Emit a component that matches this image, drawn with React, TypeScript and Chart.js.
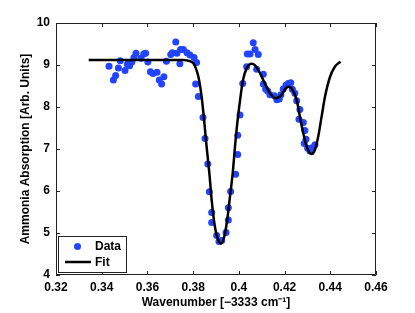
import React, { useEffect, useRef } from "react";
import { Chart, registerables } from "chart.js";

Chart.register(...registerables);

const dataX = [
  0.3432, 0.3451, 0.3461, 0.3473, 0.3481, 0.3502, 0.3512, 0.3522, 0.3532, 0.3541,
  0.3550, 0.3572, 0.3584, 0.3592, 0.3602, 0.3613, 0.3624, 0.3642, 0.3652, 0.3662,
  0.3672, 0.3683, 0.3702, 0.3709, 0.3724, 0.3729, 0.3742, 0.3745, 0.3757, 0.3773,
  0.3786, 0.3804, 0.3815, 0.3811, 0.3823, 0.3843, 0.3852, 0.3864, 0.3871, 0.3881,
  0.3881, 0.3903, 0.3913, 0.3925, 0.3944, 0.3954, 0.3954, 0.3964, 0.3986, 0.3995,
  0.3995, 0.4005, 0.4017, 0.4034, 0.4037, 0.4049, 0.4063, 0.4071, 0.4085, 0.4078,
  0.4107, 0.4107, 0.4117, 0.4126, 0.4136, 0.4155, 0.4166, 0.4177, 0.4184, 0.4194,
  0.4206, 0.4216, 0.4227, 0.4234, 0.4245, 0.4253, 0.4267, 0.4263, 0.4282, 0.4289,
  0.4294, 0.4286, 0.4301, 0.4311, 0.4321, 0.4333,
];
const dataY = [
  8.97, 8.64, 8.75, 8.93, 9.10, 8.87, 9.02, 8.98, 9.07, 9.18,
  9.28, 9.16, 9.26, 9.28, 9.07, 8.84, 8.80, 8.83, 8.64, 8.55,
  8.72, 9.09, 9.25, 9.29, 9.55, 9.28, 9.03, 9.37, 9.37, 9.29,
  9.24, 9.18, 9.06, 8.55, 8.25, 7.75, 7.25, 6.64, 5.98, 5.49,
  5.25, 4.94, 4.80, 4.82, 5.01, 5.31, 5.60, 5.99, 6.40, 6.87,
  7.33, 7.81, 8.56, 8.96, 9.26, 9.26, 9.53, 9.37, 9.25, 8.90,
  8.78, 8.55, 8.43, 8.38, 8.29, 8.27, 8.17, 8.19, 8.29, 8.43,
  8.52, 8.56, 8.58, 8.42, 8.33, 8.15, 7.94, 7.71, 7.63, 7.44,
  7.23, 7.13, 7.02, 6.95, 7.03, 7.10,
];

const fitX = [
  0.3343, 0.3611, 0.3756, 0.3772, 0.3786, 0.3801, 0.3812, 0.3823, 0.3837, 0.3847,
  0.3859, 0.3871, 0.3881, 0.3893, 0.3907, 0.3922, 0.3936, 0.3949, 0.3961, 0.3973,
  0.3983, 0.3993, 0.4005, 0.4018, 0.4034, 0.4056, 0.4071, 0.4093, 0.4114, 0.4136,
  0.4162, 0.4187, 0.4206, 0.4216, 0.4231, 0.4253, 0.4267, 0.4282, 0.4299, 0.4319,
  0.4333, 0.4347, 0.4362, 0.4377, 0.4399, 0.4420, 0.4445,
];
const fitY = [
  9.12, 9.12, 9.12, 9.11, 9.09, 9.04, 8.92, 8.72, 8.25, 7.75,
  7.05, 6.42, 5.79, 5.23, 4.87, 4.75, 4.91, 5.31, 5.86, 6.42,
  7.05, 7.61, 8.15, 8.64, 8.92, 9.03, 8.99, 8.80, 8.56, 8.33,
  8.21, 8.29, 8.45, 8.48, 8.44, 8.17, 7.77, 7.37, 7.02, 6.88,
  6.98, 7.29, 7.77, 8.25, 8.72, 8.96, 9.08,
];

const xTicks = [0.32, 0.34, 0.36, 0.38, 0.4, 0.42, 0.44, 0.46];
const xTickLabels = ["0.32", "0.34", "0.36", "0.38", "0.4", "0.42", "0.44", "0.46"];
const yTicks = [4, 5, 6, 7, 8, 9, 10];

const FONT = "'Liberation Sans', Arial, Helvetica, sans-serif";
const BLUE = "#2244ff";

const framePlugin = {
  id: "frameTicks",
  afterDraw(chart: any) {
    const { ctx, chartArea } = chart;
    const { left, right, top, bottom } = chartArea;
    const xs = chart.scales.x;
    const ys = chart.scales.y;
    ctx.save();
    ctx.strokeStyle = "#222";
    ctx.lineWidth = 1;
    ctx.beginPath();
    ctx.rect(left + 0.5, top + 0.5, right - left - 1, bottom - top - 1);
    ctx.stroke();
    const L = 4;
    ctx.beginPath();
    xTicks.forEach((v) => {
      const px = Math.round(xs.getPixelForValue(v)) + 0.5;
      ctx.moveTo(px, bottom);
      ctx.lineTo(px, bottom - L);
      ctx.moveTo(px, top);
      ctx.lineTo(px, top + L);
    });
    yTicks.forEach((v) => {
      const py = Math.round(ys.getPixelForValue(v)) + 0.5;
      ctx.moveTo(left, py);
      ctx.lineTo(left + L, py);
      ctx.moveTo(right, py);
      ctx.lineTo(right - L, py);
    });
    ctx.stroke();

    // legend
    const bx = 58.5, by = 236.5, bw = 68, bh = 36;
    ctx.fillStyle = "#fff";
    ctx.fillRect(bx, by, bw, bh);
    ctx.strokeStyle = "#222";
    ctx.strokeRect(bx, by, bw, bh);
    ctx.fillStyle = BLUE;
    ctx.beginPath();
    ctx.arc(77.5, 246.5, 3.5, 0, Math.PI * 2);
    ctx.fill();
    ctx.strokeStyle = "#000";
    ctx.lineWidth = 2.5;
    ctx.beginPath();
    ctx.moveTo(65, 262);
    ctx.lineTo(91, 262);
    ctx.stroke();
    ctx.fillStyle = "#000";
    ctx.font = `bold 12px ${FONT}`;
    ctx.textBaseline = "middle";
    ctx.textAlign = "left";
    ctx.fillText(chart.data.datasets[0].label, 95, 246.5);
    ctx.fillText(chart.data.datasets[1].label, 95, 262.5);
    ctx.restore();
  },
};

export default function App() {
  const ref = useRef<HTMLCanvasElement | null>(null);
  useEffect(() => {
    if (!ref.current) return;
    const chart = new Chart(ref.current, {
      type: "scatter",
      data: {
        datasets: [
          {
            label: "Data",
            data: dataX.map((x, i) => ({ x, y: dataY[i] })),
            backgroundColor: BLUE,
            borderColor: BLUE,
            pointRadius: 3.5,
            pointBorderWidth: 0,
            showLine: false,
            order: 2,
          },
          {
            label: "Fit",
            data: fitX.map((x, i) => ({ x, y: fitY[i] })),
            borderColor: "#000",
            borderWidth: 2.5,
            pointRadius: 0,
            showLine: true,
            cubicInterpolationMode: "monotone",
            order: 1,
          } as any,
        ],
      },
      plugins: [framePlugin],
      options: {
        animation: false,
        responsive: false,
        devicePixelRatio: 1,
        layout: { padding: { left: 0, right: 39, top: 23, bottom: 0 } },
        plugins: {
          legend: { display: false },
          tooltip: { enabled: false },
        },
        scales: {
          x: {
            type: "linear",
            min: 0.32,
            max: 0.46,
            afterBuildTicks: (s: any) => {
              s.ticks = xTicks.map((v) => ({ value: v }));
            },
            afterFit: (s: any) => {
              s.height = 38;
            },
            grid: { display: false, drawTicks: false, tickLength: 0 },
            border: { display: false },
            ticks: {
              color: "#000",
              padding: 5,
              maxRotation: 0,
              font: { family: FONT, size: 12, weight: "bold" },
              callback: (v: any) => {
                const i = xTicks.findIndex((t) => Math.abs(t - v) < 1e-9);
                return i >= 0 ? xTickLabels[i] : "";
              },
            },
            title: {
              display: true,
              text: "Wavenumber [\u22123333 cm\u207B\u00B9]",
              color: "#000",
              font: { family: FONT, size: 12, weight: "bold" },
              padding: { top: 0, bottom: 3 },
            },
          },
          y: {
            type: "linear",
            min: 4,
            max: 10,
            afterBuildTicks: (s: any) => {
              s.ticks = yTicks.map((v) => ({ value: v }));
            },
            afterFit: (s: any) => {
              s.width = 56;
            },
            grid: { display: false, drawTicks: false, tickLength: 0 },
            border: { display: false },
            ticks: {
              color: "#000",
              padding: 6,
              font: { family: FONT, size: 12, weight: "bold" },
              callback: (v: any) => String(v),
            },
            title: {
              display: true,
              text: "Ammonia Absorption [Arb. Units]",
              color: "#000",
              font: { family: FONT, size: 12, weight: "bold" },
              padding: { top: 18, bottom: 0 },
            },
          },
        },
      },
    });
    return () => chart.destroy();
  }, []);
  return (
    <div style={{ position: "fixed", left: 0, top: 0, width: 415, height: 313, background: "#fff" }}>
      <canvas ref={ref} width={415} height={313} style={{ display: "block", width: 415, height: 313 }} />
    </div>
  );
}
